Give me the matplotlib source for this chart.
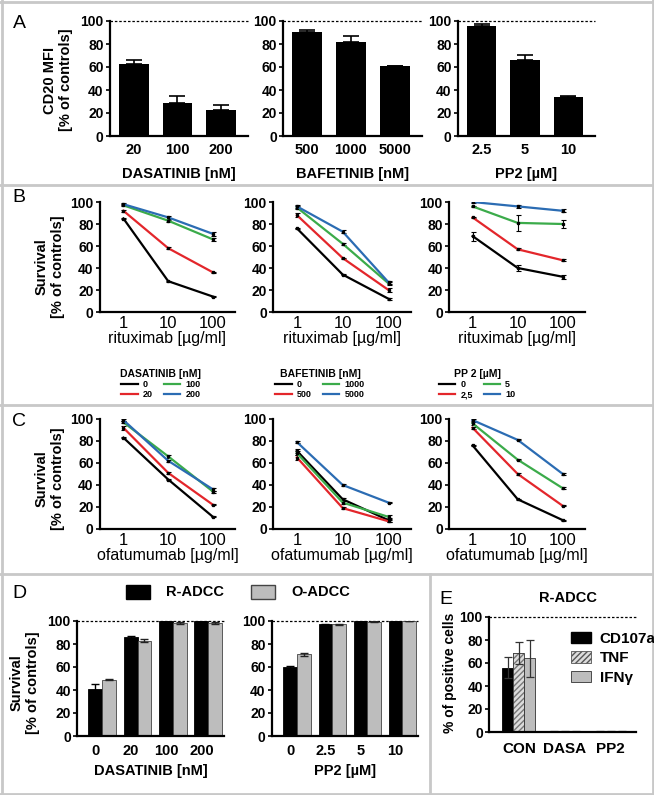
import matplotlib

matplotlib.use("Agg")

import matplotlib.pyplot as plt
from matplotlib.lines import Line2D
from matplotlib.patches import Patch
import numpy as np

plt.rcParams["font.family"] = ["Liberation Sans", "DejaVu Sans"]

W, H = 654, 795

# ---- panel A: CD20 MFI ----
a_xlabels = ["DASATINIB [nM]", "BAFETINIB [nM]", "PP2 [µM]"]
a_doses = [["20", "100", "200"], ["500", "1000", "5000"], ["2.5", "5", "10"]]
a_mfi = [[63, 29, 23], [90, 82, 60.5], [96, 66, 34]]
a_err = [[3, 6, 4], [2.5, 5, 0.5], [1, 4.5, 1]]

# ---- panels B and C: survival curves ----
mab_conc = [1, 10, 100]
line_colors = ["black", "#e3262b", "#3bab4a", "#2b6cb3"]
legend_titles = ["DASATINIB [nM]", "BAFETINIB [nM]", "PP 2 [µM]"]
legend_labels = [["0", "20", "100", "200"],
                 ["0", "500", "1000", "5000"],
                 ["0", "2,5", "5", "10"]]

b_surv = [
    [[85, 28, 14], [92, 58, 36], [97, 83, 66], [98, 86, 71]],
    [[76, 34, 12], [88, 49, 20], [95, 62, 26], [96, 73, 27]],
    [[69, 40, 32], [86, 57, 47], [96, 81, 80], [100, 96, 92]],
]
b_err = [
    [[0.5, 0.5, 0.5], [1, 0.8, 0.5], [0.8, 1, 1], [0.8, 1, 2]],
    [[0.5, 0.5, 0.8], [2, 0.5, 1.5], [1, 1, 1], [1.5, 1.5, 1.5]],
    [[4, 3, 2], [0.8, 0.8, 0.8], [0.8, 7, 4], [0.5, 1, 1.5]],
]

c_surv = [
    [[83, 45, 11], [92, 51, 22], [97, 66, 34], [99, 62, 36]],
    [[71, 27, 8], [65, 19, 7], [69, 24, 11], [79, 40, 24]],
    [[76, 27, 8], [92, 50, 21], [96, 63, 37], [99, 81, 50]],
]
c_err = [
    [[0.5, 0.5, 0.5], [2, 1, 0.5], [1, 1, 1], [1, 1, 1.5]],
    [[2, 1, 2], [2, 1, 1], [2, 1.5, 2], [1, 0.8, 0.5]],
    [[0.8, 0.5, 0.5], [1, 1, 0.5], [1, 0.5, 1], [1, 0.5, 0.5]],
]

# ---- panel D: ADCC survival ----
d_xlabels = ["DASATINIB [nM]", "PP2 [µM]"]
d_doses = [["0", "20", "100", "200"], ["0", "2.5", "5", "10"]]
r_adcc = [[41, 86, 100, 100], [60, 97, 100, 100]]
r_err = [[4, 0.7, 0, 0], [0.6, 0.5, 0, 0]]
o_adcc = [[49, 83, 98, 98], [71, 97, 99.5, 100]]
o_err = [[0.5, 1, 0.8, 0.8], [1.2, 0.7, 0.3, 0.3]]

# ---- panel E: degranulation / cytokines ----
e_groups = ["CON", "DASA", "PP2"]
cd107a = [56, 0.5, 0.5]
cd107a_err = [9, 0.3, 0.3]
tnf = [69, 0.5, 0.5]
tnf_err = [9.5, 0.3, 0.3]
ifng = [64, 0.5, 0.5]
ifng_err = [16, 0.3, 0.3]

GRAY = "#bdbdbd"


def px_axes(fig, x0, y0, x1, y1):
    return fig.add_axes([x0 / W, 1 - y1 / H, (x1 - x0) / W, (y1 - y0) / H])


def fpos(x, y):
    return x / W, 1 - y / H


def style_axes(ax, ytick_size=10):
    for side in ("top", "right"):
        ax.spines[side].set_visible(False)
    for side in ("left", "bottom"):
        ax.spines[side].set_linewidth(1.6)
    ax.set_ylim(0, 100)
    ax.set_yticks(range(0, 101, 20))
    ax.set_yticklabels([str(v) for v in range(0, 101, 20)],
                       fontweight="bold", fontsize=ytick_size)
    ax.tick_params(axis="y", length=3, width=1.2, pad=1.5)
    ax.tick_params(axis="x", length=0)


fig = plt.figure(figsize=(W / 100, H / 100), dpi=100)

# panel frame lines
frame = dict(color="#c8c8c8", lw=2, transform=fig.transFigure)
for y in (1.5, 185, 405, 574, 793.5):
    fig.add_artist(Line2D([0, 1], [1 - y / H] * 2, **frame))
for x in (1.5, 652.5):
    fig.add_artist(Line2D([x / W] * 2, [0, 1], **frame))
fig.add_artist(Line2D([430 / W] * 2, [0, 1 - 574 / H], **frame))

# panel letters
for letter, (x, y) in zip("ABCDE", [(19, 24), (19, 197), (19, 421), (19, 594), (446, 599)]):
    fig.text(*fpos(x, y), letter, fontsize=14, ha="center", va="center")

# ---------------- A ----------------
a_boxes = [(110, 248), (283, 422), (458, 595)]
for i, (x0, x1) in enumerate(a_boxes):
    ax = px_axes(fig, x0, 21, x1, 136)
    style_axes(ax)
    pos = np.arange(3)
    ax.bar(pos, a_mfi[i], width=0.68, color="black",
           yerr=[np.zeros(3), a_err[i]], capsize=6,
           error_kw=dict(elinewidth=1.2, capthick=1.2, ecolor="black"))
    ax.axhline(100, ls=(0, (2, 1.5)), lw=0.9, color="black", clip_on=False)
    ax.set_xlim(-0.55, 2.62)
    ax.set_xticks(pos)
    ax.set_xticklabels(a_doses[i], fontweight="bold", fontsize=10.5)
    ax.tick_params(axis="x", pad=5)
    ax.set_xlabel(a_xlabels[i], fontweight="bold", fontsize=10.5, labelpad=7)
fig.text(*fpos(58, 80), "CD20 MFI\n[% of controls]", rotation=90, fontsize=10.5,
         fontweight="bold", ha="center", va="center", multialignment="center")


# ---------------- B and C ----------------
def survival_panel(y0, y1, data, errs, mab_name):
    boxes = [(100, 235), (273, 411), (449, 585)]
    axes = []
    for i, (x0, x1) in enumerate(boxes):
        ax = px_axes(fig, x0, y0, x1, y1)
        style_axes(ax)
        ax.set_xscale("log")
        ax.set_xlim(0.3, 310)
        for k in range(4):
            ax.errorbar(mab_conc, data[i][k], yerr=errs[i][k], color=line_colors[k],
                        lw=1.6, marker="s", ms=1.4, mfc="black", mec="black",
                        ecolor="black", elinewidth=0.8, capsize=1.8, capthick=0.8,
                        label=legend_labels[i][k])
        ax.set_xticks(mab_conc)
        ax.set_xticklabels(["1", "10", "100"], fontsize=12)
        ax.minorticks_off()
        ax.tick_params(axis="x", length=0, pad=3)
        ax.set_xlabel(mab_name, fontsize=11.5, labelpad=0)
        axes.append(ax)
    return axes


b_axes = survival_panel(202, 312, b_surv, b_err, "rituximab [µg/ml]")
fig.text(*fpos(50, 267), "Survival\n[% of controls]", rotation=90, fontsize=10.5,
         fontweight="bold", ha="center", va="center", multialignment="center")

legend_x = [161, 320, 477]
for i in range(3):
    handles = [Line2D([], [], color=c, lw=1.6) for c in line_colors]
    fig.legend(handles, legend_labels[i], title=legend_titles[i], ncol=2,
               loc="upper center", bbox_to_anchor=fpos(legend_x[i], 364),
               frameon=False, prop={"weight": "bold", "size": 6.5},
               title_fontproperties={"weight": "bold", "size": 7.5},
               handlelength=1.8, handletextpad=0.6, columnspacing=1.2,
               labelspacing=0.15, borderpad=0)

c_axes = survival_panel(419, 529, c_surv, c_err, "ofatumumab [µg/ml]")
fig.text(*fpos(50, 479), "Survival\n[% of controls]", rotation=90, fontsize=10.5,
         fontweight="bold", ha="center", va="center", multialignment="center")

# ---------------- D ----------------
d_boxes = [(77, 224), (272, 418)]
bw = 0.39
for i, (x0, x1) in enumerate(d_boxes):
    ax = px_axes(fig, x0, 621, x1, 736)
    style_axes(ax, ytick_size=10)
    pos = np.arange(4)
    ax.bar(pos, r_adcc[i], width=bw, color="black", edgecolor="black", lw=0.6,
           yerr=r_err[i], capsize=3,
           error_kw=dict(elinewidth=1, capthick=1, ecolor="black"))
    ax.bar(pos + bw, o_adcc[i], width=bw, color=GRAY, edgecolor="#444444", lw=0.6,
           yerr=o_err[i], capsize=3,
           error_kw=dict(elinewidth=1, capthick=1, ecolor="#222222"))
    ax.axhline(100, ls=(0, (2, 1.5)), lw=0.9, color="black", clip_on=False, zorder=0)
    ax.set_xlim(-0.52, 3.64)
    ax.set_xticks(pos)
    ax.set_xticklabels(d_doses[i], fontweight="bold", fontsize=10.5)
    ax.tick_params(axis="x", pad=6)
    ax.set_xlabel(d_xlabels[i], fontweight="bold", fontsize=10.5, labelpad=4)
fig.text(*fpos(25, 683), "Survival\n[% of controls]", rotation=90, fontsize=10.5,
         fontweight="bold", ha="center", va="center", multialignment="center")
fig.legend([Patch(facecolor="black", edgecolor="black"),
            Patch(facecolor=GRAY, edgecolor="#444444")],
           ["R-ADCC", "O-ADCC"], ncol=2, loc="center", bbox_to_anchor=fpos(238, 592),
           frameon=False, prop={"weight": "bold", "size": 10.5},
           handlelength=1.7, handleheight=1.1, handletextpad=1.1,
           columnspacing=1.8, borderpad=0)

# ---------------- E ----------------
ax = px_axes(fig, 489, 617, 636, 732)
style_axes(ax, ytick_size=10)
pos = np.arange(3)
ew = 0.24
ekw = dict(elinewidth=0.9, capthick=0.9, ecolor="#333333")
ax.bar(pos - ew, cd107a, width=ew, color="black", edgecolor="black", lw=0.6,
       yerr=cd107a_err, capsize=3, error_kw=ekw)
ax.bar(pos, tnf, width=ew, color="#dcdcdc", edgecolor="#777777", hatch="//////", lw=0)
ax.bar(pos, tnf, width=ew, fill=False, edgecolor="#333333", lw=0.6,
       yerr=tnf_err, capsize=3, error_kw=ekw)
ax.bar(pos + ew, ifng, width=ew, color=GRAY, edgecolor="#333333", lw=0.6,
       yerr=ifng_err, capsize=3, error_kw=ekw)
ax.axhline(100, ls=(0, (2, 1.5)), lw=0.9, color="black", clip_on=False, zorder=0)
ax.set_xlim(-0.65, 2.55)
ax.set_xticks(pos)
ax.set_xticklabels(e_groups, fontweight="bold", fontsize=11)
ax.tick_params(axis="x", pad=7)
fig.text(*fpos(450, 673), "% of positive cells", rotation=90, fontsize=10,
         fontweight="bold", ha="center", va="center")
fig.text(*fpos(568, 598), "R-ADCC", fontsize=10.5, fontweight="bold",
         ha="center", va="center")
tnf_patch = Patch(facecolor="#dcdcdc", edgecolor="#555555", hatch="//////", lw=0.6)
fig.legend([Patch(facecolor="black", edgecolor="black"), tnf_patch,
            Patch(facecolor=GRAY, edgecolor="#333333", lw=0.6)],
           ["CD107a", "TNF", "IFNγ"], loc="upper left",
           bbox_to_anchor=fpos(563, 624), frameon=False,
           prop={"weight": "bold", "size": 11}, handlelength=1.3,
           handleheight=0.8, handletextpad=0.6, labelspacing=0.35, borderpad=0)

fig.savefig("out.png", dpi=100)
plt.close(fig)
